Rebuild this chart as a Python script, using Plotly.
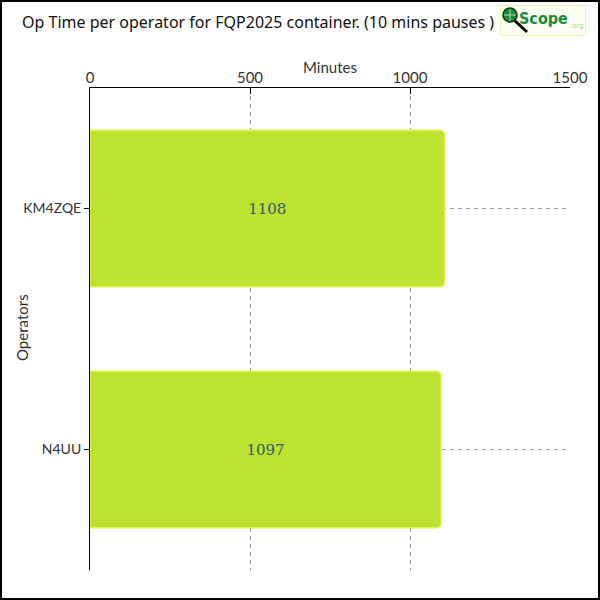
import plotly.graph_objects as go

operators = ["KM4ZQE", "N4UU"]
minutes = [1108, 1097]
x_ticks = [0, 500, 1000, 1500]

L, R, T, B = 90, 570, 88, 570
def px(x):
    return (x - L) / (R - L)
def py(y):
    return (B - y) / (B - T)

fig = go.Figure(go.Bar(
    y=operators, x=minutes, orientation="h",
    width=0.65,
    marker=dict(color="#bde22f", line=dict(color="#dcf54a", width=1.5), cornerradius=5),
    text=[str(v) for v in minutes], textposition="inside", insidetextanchor="middle",
    textfont=dict(family="Roboto Slab, DejaVu Serif, serif", size=15, color="#2e5d6e"),
    textangle=0, hoverinfo="skip",
))

fig.update_layout(
    width=600, height=600,
    margin=dict(l=L, r=600 - R, t=T, b=600 - B, autoexpand=False),
    paper_bgcolor="white", plot_bgcolor="white",
    showlegend=False,
    title=dict(text="Op Time per operator for FQP2025 container. (10 mins pauses )",
               xref="container", yref="container", x=22/600, xanchor="left",
               y=1 - 22/600, yanchor="middle",
               font=dict(family="Noto Sans", size=16, color="#111")),
    xaxis=dict(side="top", range=[0, 1500], tickvals=x_ticks, automargin=False,
               showline=True, linecolor="black", linewidth=1,
               ticks="inside", ticklen=6, tickcolor="black",
               showgrid=True, gridcolor="#999", griddash="4px,4px", gridwidth=1,
               zeroline=False, ticklabelstandoff=-2,
               tickfont=dict(family="Lato", size=15, color="#333")),
    yaxis=dict(categoryorder="array", categoryarray=operators, autorange="reversed", automargin=False,
               showline=True, linecolor="black", linewidth=1,
               ticks="outside", ticklen=5, tickcolor="black",
               showgrid=True, gridcolor="#999", griddash="4px,4px", gridwidth=1,
               tickfont=dict(family="Lato", size=14, color="#333")),
)

shapes = [
    dict(type="rect", xref="paper", yref="paper", x0=px(1), x1=px(599), y0=py(1), y1=py(599),
         line=dict(color="black", width=2), fillcolor="rgba(0,0,0,0)", layer="above"),
    dict(type="rect", xref="paper", yref="paper", x0=px(500.5), x1=px(585.5), y0=py(5.5), y1=py(35.5),
         line=dict(color="#eef5b0", width=1), fillcolor="#fdfff2", layer="above"),
    dict(type="line", xref="paper", yref="paper", x0=px(514), x1=px(527), y0=py(20), y1=py(32),
         line=dict(color="black", width=3), layer="above"),
    dict(type="circle", xref="paper", yref="paper", x0=px(503), x1=px(517), y0=py(8), y1=py(22),
         line=dict(color="#0b3d12", width=1.5), fillcolor="#1f8a3a", layer="above"),
    dict(type="line", xref="paper", yref="paper", x0=px(510), x1=px(510), y0=py(9), y1=py(21),
         line=dict(color="#a8e6b0", width=1), layer="above"),
    dict(type="line", xref="paper", yref="paper", x0=px(504), x1=px(516), y0=py(15), y1=py(15),
         line=dict(color="#a8e6b0", width=1), layer="above"),
]
fig.update_layout(shapes=shapes)

fig.add_annotation(text="<b>Scope</b>", xref="paper", yref="paper", x=px(518), y=py(18),
                   xanchor="left", yanchor="middle", showarrow=False, borderpad=0,
                   font=dict(family="DejaVu Sans Condensed", size=16, color="#178a3c"))
fig.add_annotation(text=".org", xref="paper", yref="paper", x=px(569), y=py(26),
                   xanchor="left", yanchor="middle", showarrow=False, borderpad=0,
                   font=dict(family="DejaVu Sans", size=7, color="#a6d98a"))
fig.add_annotation(text="Minutes", xref="paper", yref="paper", x=px(330), y=py(67),
                   xanchor="center", yanchor="middle", showarrow=False,
                   font=dict(family="Lato", size=15, color="#333"))
fig.add_annotation(text="Operators", xref="paper", yref="paper", x=px(22), y=py(328),
                   xanchor="center", yanchor="middle", showarrow=False, textangle=-90,
                   font=dict(family="Lato", size=15, color="#333"))

fig.write_html("out.html", config={"displayModeBar": False},
               post_script="document.body.style.margin='0';document.body.style.padding='0';")
